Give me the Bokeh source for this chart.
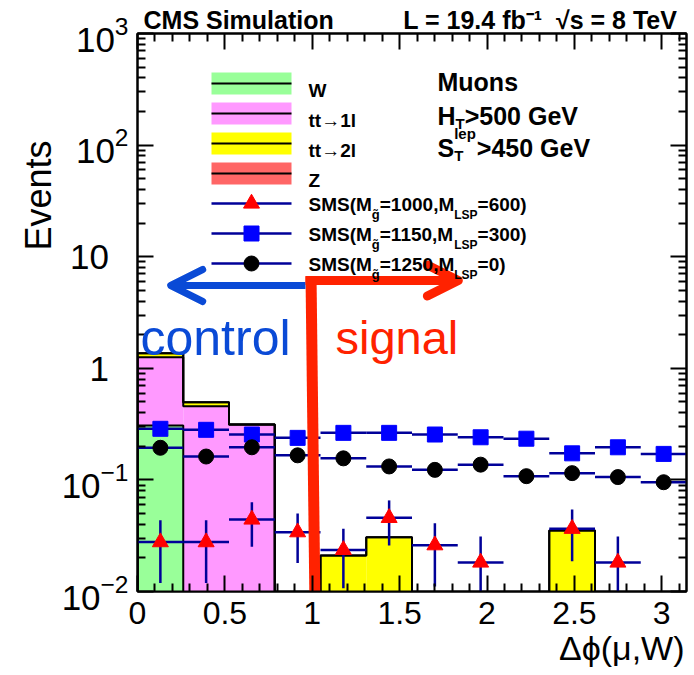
import math
import unicodedata

import numpy as np
from bokeh.plotting import figure
from bokeh.models import (Range1d, LinearScale, LinearAxis, LogAxis, FixedTicker,
                          CustomJSTickFormatter, Label, Arrow, OpenHead, Title)
from bokeh.embed import file_html
from bokeh.resources import INLINE

# ---------------------------------------------------------------- data
n_bins = 12
phi_max = math.pi

# stacked backgrounds (events per bin)
w_jets = [0.307, 0, 0, 0, 0, 0, 0, 0, 0, 0, 0, 0]
tt_1l = [0.949, 0.457, 0.314, 0, 0, 0, 0, 0, 0, 0, 0, 0]
tt_2l = [0.109, 0.040, 0, 0, 0.0210, 0.0307, 0, 0, 0, 0.0352, 0, 0]
z_jets = [0, 0, 0, 0, 0, 0, 0, 0, 0, 0, 0, 0]

# signal model points
sms_1000_600 = [0.0277, 0.0277, 0.0442, 0.0340, 0.0236, 0.0457,
                0.0260, 0.0182, None, 0.0365, 0.0182, None]
sms_1000_600_err = [0.0158, 0.0158, 0.0190, 0.0160, 0.0129, 0.0198,
                    0.0149, 0.0129, None, 0.0178, 0.0129, None]
sms_1150_300 = [0.287, 0.281, 0.255, 0.238, 0.264, 0.264,
                0.255, 0.241, 0.234, 0.173, 0.196, 0.171]
sms_1250_0 = [0.194, 0.162, 0.196, 0.166, 0.156, 0.132,
              0.123, 0.137, 0.108, 0.115, 0.106, 0.0953]

x_ticks = [0, 0.5, 1, 1.5, 2, 2.5, 3]
y_ticks = [1e-2, 1e-1, 1, 10, 1e2, 1e3]
NBSP = "\u00a0"
# plain labels for 1 and 10; trailing blanks keep the digits in line with the "10" of 10^n
y_plain_labels = {1: "1" + NBSP * 2, 10: "10" + NBSP * 2}

# selection cut on delta phi
dphi_cut = 1.0

# ---------------------------------------------------------------- layout
FL, FT, FW, FH = 137, 33, 549, 558          # frame box in page pixels
FB = FT + FH
W, H = 694, 675
YLOG_MIN, YLOG_MAX = -2, 3
FONT = "Liberation Sans"
NAVY = "#000099"
BLUE = "#0a4ad6"
RED = "#ff2200"

p = figure(width=W, height=H, output_backend="svg", toolbar_location=None, tools="",
           x_range=Range1d(0, phi_max), y_range=Range1d(10**YLOG_MIN, 10**YLOG_MAX),
           y_axis_type="log",
           min_border_left=FL, min_border_right=W - FL - FW,
           min_border_top=FT, min_border_bottom=H - FT - FH)
p.grid.visible = False
p.outline_line_color = "black"
p.outline_line_width = 2
p.background_fill_color = "white"
p.border_fill_color = "white"

# pixel coordinate system of the frame (y grows downwards), used for decorations
p.extra_x_ranges = {"px": Range1d(0, FW)}
p.extra_y_ranges = {"px": Range1d(FH, 0)}
p.extra_x_scales = {"px": LinearScale()}
p.extra_y_scales = {"px": LinearScale()}

x_minor = [round(0.1 * k, 1) for k in range(32) if k % 5]
y_minor = [m * 10.0 ** e for e in range(YLOG_MIN, YLOG_MAX) for m in range(2, 10)]
x_ticker = FixedTicker(ticks=x_ticks, minor_ticks=x_minor)
y_ticker = FixedTicker(ticks=y_ticks, minor_ticks=y_minor)


def style_axis(ax, ticker, labels):
    ax.ticker = ticker
    ax.axis_line_color = "black"
    ax.axis_line_width = 2
    ax.major_tick_line_color = "black"
    ax.major_tick_line_width = 2
    ax.minor_tick_line_color = "black"
    ax.minor_tick_line_width = 2
    ax.major_tick_in = 16
    ax.major_tick_out = 0
    ax.minor_tick_in = 8
    ax.minor_tick_out = 0
    if labels:
        ax.major_label_text_font = FONT
        ax.major_label_text_color = "black"
    else:
        ax.formatter = CustomJSTickFormatter(code="return ''")
        ax.major_label_text_font_size = "1px"
        ax.major_label_standoff = 0


xa = p.xaxis[0]
style_axis(xa, x_ticker, True)
xa.major_label_text_font_size = "32px"
xa.major_label_standoff = 10

ya = p.yaxis[0]
style_axis(ya, y_ticker, True)
ya.major_label_text_font_size = "35px"
ya.major_label_standoff = 9
ya.major_label_overrides = y_plain_labels

top_axis = LinearAxis()
style_axis(top_axis, x_ticker, False)
p.add_layout(top_axis, "above")
right_axis = LogAxis()
style_axis(right_axis, y_ticker, False)
p.add_layout(right_axis, "right")

# header line above the frame
header = "CMS Simulation" + NBSP * 10 + "L = 19.4 fb\u207b\u00b9" + NBSP * 2 + "\u221as = 8 TeV"
p.add_layout(Title(text=header, align="left", offset=6, standoff=0, text_font=FONT,
                   text_font_size="25px", text_font_style="bold", text_color="black"),
             "above")
# axis titles
p.add_layout(Title(text="\u0394\u03d5(\u03bc,W)", align="right", offset=2, standoff=0,
                   text_font=FONT, text_font_size="34px", text_font_style="normal",
                   text_color="black"), "below")
p.add_layout(Title(text="Events", align="right", offset=107, standoff=0,
                   text_font=FONT, text_font_size="36px", text_font_style="normal",
                   text_color="black"), "left")

# ---------------------------------------------------------------- stacked histogram
edges = np.linspace(0, phi_max, n_bins + 1)
left, right = edges[:-1], edges[1:]
centers = 0.5 * (left + right)
floor = 1e-4

stack = [("W", w_jets, "#99ff99"),
         ("tt\u21921l", tt_1l, "#ff99ff"),
         ("tt\u21922l", tt_2l, "#ffff00"),
         ("Z", z_jets, "#ff6666")]

cum = np.zeros(n_bins)
tops = []
for name, vals, color in stack:
    vals = np.asarray(vals, dtype=float)
    top = cum + vals
    m = vals > 0
    if m.any():
        p.quad(left=left[m], right=right[m], bottom=np.maximum(cum[m], floor), top=top[m],
               fill_color=color, line_color=None)
    tops.append(top)
    cum = top

for top in tops:
    xs = np.repeat(edges, 2)
    ys = np.concatenate([[floor], np.repeat(np.maximum(top, floor), 2), [floor]])
    p.line(xs, ys, line_color="black", line_width=2)

# ---------------------------------------------------------------- signal points
for vals in (sms_1150_300, sms_1250_0):
    p.segment(x0=left, x1=right, y0=vals, y1=vals, line_color=NAVY, line_width=2.5)

tri = [(i, v, e) for i, (v, e) in enumerate(zip(sms_1000_600, sms_1000_600_err)) if v is not None]
ti = [t[0] for t in tri]
tv = np.array([t[1] for t in tri])
te = np.array([t[2] for t in tri])
p.segment(x0=left[ti], x1=right[ti], y0=tv, y1=tv, line_color=NAVY, line_width=2.5)
p.segment(x0=centers[ti], x1=centers[ti], y0=np.maximum(tv - te, floor), y1=tv + te,
          line_color=NAVY, line_width=2.5)

p.scatter(centers, sms_1150_300, marker="square", size=15, fill_color="#0000ff", line_color="#0000ff")
p.scatter(centers, sms_1250_0, marker="circle", size=15, fill_color="black", line_color="black")
p.scatter(centers[ti], tv, marker="triangle", size=16, fill_color="#ff0000", line_color="#ff0000")

# ---------------------------------------------------------------- control / signal regions
p.segment(x0=[dphi_cut - 0.007], y0=[276 - FT], x1=[dphi_cut + 0.016], y1=[610 - FT],
          y_range_name="px", line_color=RED, line_width=11)
p.add_layout(Arrow(x_start=dphi_cut - 0.039, y_start=285 - FT, x_end=0.19, y_end=285 - FT,
                   y_range_name="px", line_color=BLUE, line_width=7,
                   end=OpenHead(size=32, line_color=BLUE, line_width=7,
                                line_cap="round", line_join="round")))
p.add_layout(Arrow(x_start=dphi_cut - 0.039, y_start=280 - FT, x_end=1.836, y_end=280 - FT,
                   y_range_name="px", line_color=RED, line_width=9,
                   end=OpenHead(size=31, line_color=RED, line_width=9,
                                line_cap="round", line_join="round")))

# ---------------------------------------------------------------- text inside the frame
BOLD_W = {" ": 278, "(": 333, ")": 333, ",": 278, "=": 584, ">": 584, "-": 333, ".": 278,
          "0": 556, "1": 556, "2": 556, "3": 556, "4": 556, "5": 556, "6": 556, "7": 556,
          "8": 556, "9": 556, "C": 722, "G": 778, "H": 722, "L": 611, "M": 833, "P": 667,
          "S": 667, "T": 611, "V": 667, "W": 944, "Z": 611, "a": 556, "b": 611, "e": 556,
          "f": 333, "g": 611, "i": 278, "l": 278, "m": 889, "n": 611, "o": 611, "p": 611,
          "s": 556, "t": 333, "u": 611}


def bold_width(s, size):
    return sum(BOLD_W.get(c, 556) for c in s if not unicodedata.combining(c)) * size / 1000


def put(text, X, Y, size, bold=False, color="black", align="left"):
    # X, Y: page pixels (Y downwards); converted to frame-relative screen units
    p.add_layout(Label(x=X - FL, y=FB - Y, x_units="screen", y_units="screen", text=text,
                       text_font=FONT, text_font_size=f"{size}px",
                       text_font_style="bold" if bold else "normal",
                       text_color=color, text_align=align, text_baseline="alphabetic"))


def put_run(X, Y, pieces):
    x = X
    for text, size, dy in pieces:
        put(text, x, Y + dy, size, bold=True)
        x += bold_width(text, size)
    return x


# region labels
put("control", 140, 337, 50, color=BLUE)
put("signal", 335, 337, 47, color=RED)

# selection text
put("Muons", 437, 81, 25, bold=True)
xh = put_run(437, 115, [("H", 25, 0), ("T", 15, 8)])
put_run(xh, 115, [(">500 GeV", 25, 0)])
put("S", 437, 147, 25, bold=True)
xs0 = 437 + bold_width("S", 25)
put("lep", xs0, 133, 15, bold=True)
put("T", xs0, 155, 15, bold=True)
put_run(xs0 + bold_width("lep", 15) + 1, 147, [(">450 GeV", 25, 0)])

# ---------------------------------------------------------------- legend
LX0, LX1 = 211, 291
for i, (name, vals, color) in enumerate(stack):
    yc = 83 + 30 * i
    p.quad(left=[LX0 - FL], right=[LX1 - FL], top=[yc - 11 - FT], bottom=[yc + 11 - FT],
           x_range_name="px", y_range_name="px", fill_color=color, line_color=None)
    p.segment(x0=[LX0 - FL], x1=[LX1 - FL], y0=[yc - FT], y1=[yc - FT],
              x_range_name="px", y_range_name="px", line_color="black", line_width=2)
    put(name, 308, yc + 7, 19, bold=True)

sms_entries = [("triangle", "#ff0000", "1000", "600", 16),
               ("square", "#0000ff", "1150", "300", 15),
               ("circle", "black", "1250", "0", 15)]
for i, (mk, col, mg, mlsp, sz) in enumerate(sms_entries):
    yc = 203 + 30 * i
    p.segment(x0=[LX0 - FL], x1=[LX1 - FL], y0=[yc - FT], y1=[yc - FT],
              x_range_name="px", y_range_name="px", line_color=NAVY, line_width=2.5)
    p.scatter(x=[0.5 * (LX0 + LX1) - FL], y=[yc - FT], x_range_name="px", y_range_name="px",
              marker=mk, size=sz, fill_color=col, line_color=col)
    put_run(308, yc + 1, [("SMS(M", 19, 0), ("g\u0303", 13, 10), (f"={mg},M", 19, 0),
                          ("LSP", 12, 10), (f"={mlsp})", 19, 0)])

open("out.html", "w").write(file_html(p, INLINE))
